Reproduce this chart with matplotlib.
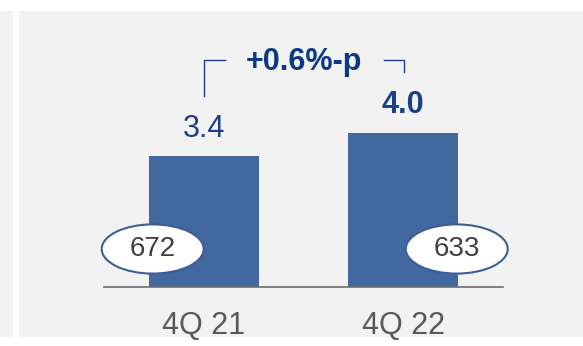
import matplotlib.pyplot as plt
from matplotlib.patches import Ellipse, Rectangle

plt.rcParams['font.family'] = ['Liberation Sans', 'DejaVu Sans']

# quarterly ratio (%) and counts shown in the ovals
quarters = ['4Q 21', '4Q 22']
ratio = [3.4, 4.0]
counts = [672, 633]
change_label = '+0.6%-p'

bar_color = '#41689f'
navy = '#1c3f8a'

fig = plt.figure(figsize=(5.83, 3.46), dpi=100)
fig.patch.set_facecolor('white')

# grey backdrop panels
fig.patches.append(Rectangle((0.0326, 0.026), 0.9674, 0.942, transform=fig.transFigure,
                             facecolor='#f2f2f2', edgecolor='none', zorder=-10))
fig.patches.append(Rectangle((0.0, 0.026), 0.0223, 0.942, transform=fig.transFigure,
                             facecolor='#f2f2f2', edgecolor='none', zorder=-10))

ax = fig.add_axes([0.1784, 0.1705, 0.6844, 0.777])
ax.patch.set_alpha(0)
x = list(range(len(quarters)))
ax.bar(x, ratio, width=0.55, color=bar_color, zorder=2)
ax.set_xlim(-0.5, 1.5)
ax.set_ylim(0, 7)

for s in ['top', 'right', 'left']:
    ax.spines[s].set_visible(False)
ax.spines['bottom'].set_color('#6d6d6d')
ax.spines['bottom'].set_linewidth(1.2)
ax.set_yticks([])
ax.set_xticks(x)
ax.set_xticklabels(quarters, fontsize=22, color='#595959')
ax.tick_params(axis='x', length=0, pad=17)

# value labels above bars
ax.annotate(f'{ratio[0]:.1f}', (x[0], ratio[0]), xytext=(0, 14), textcoords='offset points',
            ha='center', va='baseline', fontsize=22, color=navy)
ax.annotate(f'{ratio[1]:.1f}', (x[1], ratio[1]), xytext=(0, 14.5), textcoords='offset points',
            ha='center', va='baseline', fontsize=22, color=navy, fontweight='bold')

# change bracket
top = 5.92
ax.plot([x[0], x[0], x[0] + 0.105], [ratio[0] + 1.57, top, top], color=navy, lw=1, clip_on=False)
ax.plot([x[1] - 0.095, x[1] + 0.005, x[1] + 0.005], [top, top, ratio[1] + 1.6], color=navy,
        lw=1, clip_on=False)
ax.text(0.504, 5.65, change_label, ha='center', va='baseline', fontsize=22, color='#0b3a84',
        fontweight='bold')

# count ovals
oval_x = [x[0] - 0.256, x[1] + 0.268]
for ox, c in zip(oval_x, counts):
    ax.add_patch(Ellipse((ox, 0.99), 0.511, 1.28, facecolor='white', edgecolor='#3f5f94',
                         lw=1.5, zorder=3, clip_on=False))
    ax.text(ox, 0.99, str(c), ha='center', va='center', fontsize=20, color='#404040', zorder=4)

fig.savefig('out.png', dpi=100)
